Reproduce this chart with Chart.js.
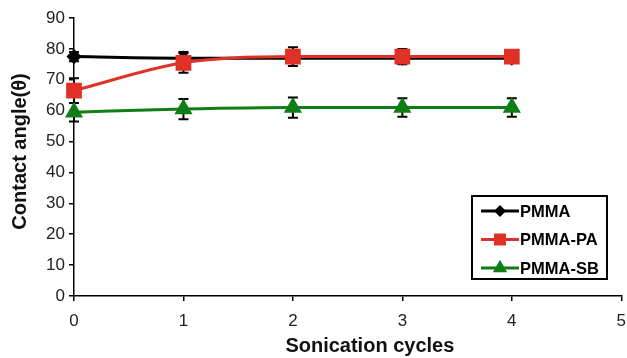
<!DOCTYPE html>
<html>
<head>
<meta charset="utf-8">
<script src="https://cdn.jsdelivr.net/npm/chart.js@4/dist/chart.umd.min.js"></script>
<style>
  html, body { margin: 0; padding: 0; background: #fff; overflow: hidden; }
  #wrap { width: 636px; height: 358px; position: relative; }
</style>
</head>
<body>
<div id="wrap"><canvas id="grafico"></canvas></div>
<script>
const ciclos = [0, 1, 2, 3, 4];
const pmma = [77.5, 77, 77, 77, 77];
const pmmaErr = [1.5, 2, 1.5, 1.5, 1.5];
const pmmaPA = [66.5, 75.5, 77.5, 77.5, 77.5];
const pmmaPAErr = [4, 3.2, 3, 2.5, 2];
const pmmaSB = [59.5, 60.5, 61, 61, 61];
const pmmaSBErr = [3, 3.3, 3.3, 3, 3];
const nombres = ["PMMA", "PMMA-PA", "PMMA-SB"];
const colores = ["#000000", "#e03127", "#107e17"];
const marcadores = ["rectRot", "rect", "triangle"];
const radios = [5.5, 9, 7.5];

const fuente = "'Liberation Sans', Arial, sans-serif";

function puntos(vals) {
  return vals.map((v, i) => ({ x: ciclos[i], y: v }));
}

// barras de error
const barrasError = {
  id: "barrasError",
  beforeDatasetsDraw(chart) {
    const ctx = chart.ctx;
    const xs = chart.scales.x, ys = chart.scales.y;
    const errores = [pmmaErr, pmmaPAErr, pmmaSBErr];
    ctx.save();
    ctx.strokeStyle = "#000";
    ctx.lineWidth = 2;
    chart.data.datasets.forEach((ds, d) => {
      ds.data.forEach((p, i) => {
        const e = errores[d][i];
        const px = xs.getPixelForValue(p.x);
        const top = ys.getPixelForValue(p.y + e);
        const bot = ys.getPixelForValue(p.y - e);
        ctx.beginPath();
        ctx.moveTo(px, top); ctx.lineTo(px, bot);
        ctx.moveTo(px - 5, top); ctx.lineTo(px + 5, top);
        ctx.moveTo(px - 5, bot); ctx.lineTo(px + 5, bot);
        ctx.stroke();
      });
    });
    ctx.restore();
  }
};

// leyenda con recuadro
const leyenda = {
  id: "leyenda",
  afterDraw(chart) {
    const ctx = chart.ctx;
    const x0 = 472, y0 = 196, w = 135, h = 83;
    ctx.save();
    ctx.fillStyle = "#fff";
    ctx.fillRect(x0, y0, w, h);
    ctx.strokeStyle = "#000";
    ctx.lineWidth = 2;
    ctx.strokeRect(x0, y0, w, h);
    chart.data.datasets.forEach((ds, i) => {
      const y = y0 + 15 + i * 28.5;
      ctx.strokeStyle = ds.borderColor;
      ctx.lineWidth = 3;
      ctx.beginPath();
      ctx.moveTo(x0 + 9, y); ctx.lineTo(x0 + 47, y);
      ctx.stroke();
      ctx.fillStyle = ds.borderColor;
      ctx.strokeStyle = ds.borderColor;
      Chart.helpers.drawPoint(ctx, {
        pointStyle: ds.pointStyle, radius: ds.pointRadius * 0.7, borderWidth: 1
      }, x0 + 28, y);
      ctx.fillStyle = "#000";
      ctx.font = "bold 16.5px " + fuente;
      ctx.textBaseline = "middle";
      ctx.fillText(nombres[i], x0 + 48, y + 1);
    });
    ctx.restore();
  }
};

const series = [pmma, pmmaPA, pmmaSB];

new Chart(document.getElementById("grafico"), {
  type: "line",
  data: {
    datasets: series.map((s, i) => ({
      label: nombres[i],
      data: puntos(s),
      borderColor: colores[i],
      backgroundColor: colores[i],
      borderWidth: 3,
      pointStyle: marcadores[i],
      pointRadius: radios[i],
      pointHoverRadius: radios[i],
      tension: 0.4,
      cubicInterpolationMode: "monotone",
      order: 3 - i,
      clip: false,
      fill: false
    }))
  },
  options: {
    responsive: true,
    maintainAspectRatio: false,
    animation: false,
    layout: { padding: { left: 8, right: 0, top: 18, bottom: 0 } },
    plugins: {
      legend: { display: false },
      tooltip: { enabled: false }
    },
    scales: {
      x: {
        type: "linear",
        min: 0, max: 5,
        afterFit: (s) => { s.height = 62; },
        ticks: { stepSize: 1, color: "#222", font: { family: fuente, size: 17 }, padding: 10 },
        grid: { drawOnChartArea: false, color: "#000", tickLength: 5, lineWidth: 1.5 },
        border: { color: "#000", width: 1.5 },
        title: { display: true, text: "\u00a0\u00a0\u00a0\u00a0\u00a0\u00a0\u00a0\u00a0Sonication cycles", color: "#111", font: { family: fuente, size: 20, weight: "bold" }, padding: 0 }
      },
      y: {
        min: 0, max: 90,
        afterFit: (s) => { s.width = 66; },
        ticks: { stepSize: 10, color: "#222", font: { family: fuente, size: 17 }, padding: 4 },
        grid: { drawOnChartArea: false, color: "#000", tickLength: 5, lineWidth: 1.5 },
        border: { color: "#000", width: 1.5 },
        title: { display: true, text: "\u00a0\u00a0Contact angle(θ)", color: "#111", font: { family: fuente, size: 20, weight: "bold" }, padding: 0 }
      }
    }
  },
  plugins: [barrasError, leyenda]
});
</script>
</body>
</html>
